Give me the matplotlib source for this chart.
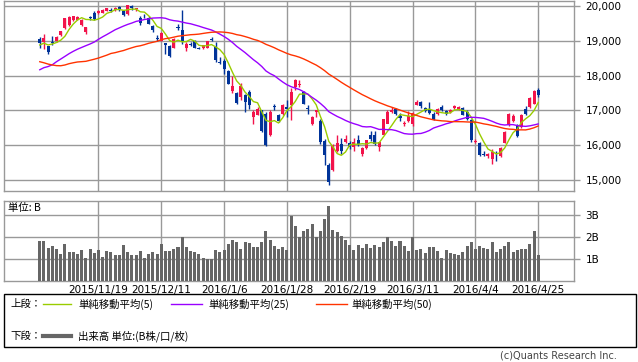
import matplotlib
matplotlib.use("Agg")
import matplotlib.pyplot as plt
from matplotlib.lines import Line2D
from matplotlib.patches import Rectangle
import numpy as np
import pandas as pd

# closes before the visible window (only feed the moving averages)
prior_close = [20620, 20554, 20222, 20033, 19435, 18540, 17806, 18376, 18574, 19136, 18890,
               18165, 18095, 18182, 17792, 17860, 17427, 18770, 18299, 18264, 17965, 18026,
               18171, 18432, 18070, 17571, 17880, 17645, 16930, 17388,
               17722, 17725, 18005, 18186, 18322, 18141, 18438, 18234, 17891, 18096, 18291,
               18131, 18207, 18554, 18435, 18825, 18947, 18778, 18904]

# visible window, 2015/10/29 .. 2016/4/25
opens = [19040, 18950, 18840, 18950, 18980, 19160, 19370, 19440, 19580, 19600,
         19460, 19240, 19680, 19780, 19790, 19800, 19860, 19880, 19880, 19980,
         19860, 19770, 20000, 19900, 19660, 19720, 19660, 19430, 19080, 19000,
         18930, 18860, 18800, 19380, 19310, 18780, 18900, 19000, 18800, 18780,
         18800, 19060, 18818, 18398, 18410, 18139, 17562, 17500, 17400, 17430,
         17520, 16800, 16870, 17000, 16900, 16300, 17130, 16860, 16900, 17100,
         17150, 17660, 17720, 17540, 17070, 16600, 16950, 16700, 16130, 15450,
         15300, 15850, 16050, 16100, 16060, 15950, 16150, 15760, 15920, 16300,
         16300, 15960, 16300, 16620, 16960, 17030, 16850, 16600, 16700, 16600,
         17170, 17240, 17080, 17050, 16900, 16900, 17100, 16980, 16960, 17080,
         17050, 17060, 16960, 16720, 16100, 16080, 15750, 15700, 15600, 15790,
         15700, 16080, 16580, 16700, 16580, 16520, 17050, 17100, 17200, 17580]
highs = [19100, 19180, 18860, 19140, 19130, 19280, 19660, 19720, 19720, 19720,
         19620, 19400, 19700, 19840, 19880, 19900, 19950, 19950, 19960, 20000,
         19880, 20030, 20012, 19950, 19700, 19760, 19700, 19450, 19150, 19260,
         18940, 18880, 19070, 19470, 19869, 18950, 18950, 19010, 18830, 18890,
         19000, 19110, 18951, 18547, 18469, 18172, 17975, 17536, 17783, 17480,
         17600, 17000, 17100, 17020, 16950, 17000, 17200, 16890, 17200, 17300,
         17640, 17900, 17870, 17560, 17160, 16850, 17020, 16760, 16170, 15500,
         16050, 16300, 16200, 16300, 16120, 16200, 16300, 15950, 16160, 16400,
         16400, 16100, 16750, 17000, 17100, 17060, 16920, 16700, 16990, 16960,
         17290, 17260, 17100, 17240, 16950, 17080, 17150, 17020, 17040, 17150,
         17130, 17100, 17010, 16760, 16180, 16100, 15850, 15780, 15900, 15850,
         15950, 16400, 16920, 16900, 16620, 16900, 17120, 17400, 17600, 17640]
lows = [18790, 18760, 18620, 18880, 18960, 19140, 19340, 19420, 19560, 19580,
        19420, 19180, 19580, 19590, 19760, 19780, 19840, 19830, 19860, 19850,
        19700, 19750, 19890, 19860, 19450, 19650, 19470, 19250, 19000, 18980,
        18620, 18540, 18780, 19300, 18900, 18700, 18860, 18780, 18750, 18760,
        18780, 19000, 18394, 18327, 18051, 17767, 17509, 17200, 17300, 16960,
        17030, 16600, 16860, 16380, 15980, 16280, 17000, 16680, 16880, 16800,
        16720, 17600, 17660, 17180, 16900, 16570, 16820, 16050, 15450, 14865,
        15280, 15800, 15750, 16080, 15900, 15850, 15980, 15700, 15900, 16130,
        16000, 15850, 16380, 16680, 16940, 16880, 16700, 16550, 16680, 16560,
        17150, 17080, 16950, 16900, 16720, 16880, 16980, 16860, 16930, 17050,
        17010, 16860, 16740, 16110, 16080, 15700, 15700, 15640, 15470, 15540,
        15680, 16060, 16560, 16680, 16240, 16500, 16880, 17080, 17180, 17400]
closes = [18936, 19083, 18683, 18927, 19116, 19265, 19642, 19671, 19697, 19690,
          19596, 19393, 19649, 19610, 19859, 19879, 19924, 19847, 19944, 19883,
          19747, 20012, 19938, 19939, 19504, 19698, 19492, 19301, 19046, 19230,
          18883, 18565, 19049, 19353, 18986, 18916, 18886, 18789, 18769, 18873,
          18982, 19033, 18450, 18374, 18191, 17767, 17697, 17218, 17715, 17240,
          17147, 16955, 17048, 16416, 16017, 16958, 17110, 16708, 17163, 17041,
          17518, 17865, 17750, 17191, 17044, 16819, 17004, 16085, 15713, 14952,
          16022, 16054, 15836, 16196, 15967, 16111, 16052, 15915, 16140, 16188,
          16026, 16085, 16746, 16960, 17014, 16911, 16783, 16642, 16852, 16938,
          17233, 17117, 16974, 16936, 16724, 17048, 17000, 16892, 17002, 17134,
          17103, 16878, 16758, 16164, 16123, 15732, 15715, 15749, 15821, 15751,
          15928, 16381, 16911, 16848, 16275, 16874, 16906, 17363, 17572, 17439]
# volume, billions of shares
volume = [1.80, 1.83, 1.49, 1.60, 1.46, 1.23, 1.69, 1.32, 1.32, 1.23,
          1.42, 1.05, 1.46, 1.28, 1.42, 1.09, 1.35, 1.32, 1.17, 1.17,
          1.65, 1.32, 1.18, 1.18, 1.37, 1.05, 1.23, 1.32, 1.23, 1.69,
          1.37, 1.37, 1.46, 1.55, 2.02, 1.55, 1.37, 1.32, 1.23, 1.05,
          1.00, 1.00, 1.42, 1.32, 1.42, 1.69, 1.88, 1.78, 1.46, 1.77,
          1.71, 1.55, 1.55, 1.78, 2.29, 1.88, 1.60, 1.46, 1.55, 1.42,
          2.95, 2.49, 2.00, 2.29, 2.38, 2.62, 2.00, 2.29, 2.85, 3.42,
          2.34, 2.25, 2.06, 1.88, 1.65, 1.42, 1.65, 1.51, 1.69, 1.51,
          1.65, 1.55, 1.78, 2.02, 1.83, 1.60, 1.83, 1.60, 1.37, 2.02,
          1.42, 1.46, 1.28, 1.55, 1.55, 1.37, 1.05, 1.42, 1.28, 1.23,
          1.18, 1.32, 1.60, 1.78, 1.46, 1.60, 1.51, 1.46, 1.78, 1.32,
          1.46, 1.60, 1.78, 1.32, 1.42, 1.46, 1.46, 1.69, 2.29, 1.18]

date_idx = [14, 29, 44, 59, 74, 89, 104, 119]
date_labels = ['2015/11/19', '2015/12/11', '2016/1/6', '2016/1/28',
               '2016/2/19', '2016/3/11', '2016/4/4', '2016/4/25']
price_ticks = [15000, 16000, 17000, 18000, 19000, 20000]
vol_ticks = [1, 2, 3]

UP, DOWN = '#f2134b', '#003399'
GRID = '#999999'
JP = ['Noto Sans CJK JP', 'DejaVu Sans']

n = len(closes)
x = np.arange(n)
allc = pd.Series(prior_close + closes, dtype=float)
ma = {w: allc.rolling(w).mean().values[len(prior_close):] for w in (5, 25, 50)}

W, H = 638, 362
fig = plt.figure(figsize=(W / 100, H / 100), dpi=100)
ax = fig.add_axes([3.5 / W, 1 - 190.5 / H, 571 / W, 190 / H])
axv = fig.add_axes([3.5 / W, 1 - 280.5 / H, 571 / W, 79.5 / H])

for a in (ax, axv):
    a.set_xlim(-8.66, 127.66)
    for s in a.spines.values():
        s.set_color(GRID)
        s.set_linewidth(1)
    for gi in date_idx:
        a.axvline(gi, color=GRID, lw=1, zorder=0)
    a.yaxis.tick_right()
    a.tick_params(axis='y', length=4, color=GRID, width=1, pad=4, labelsize=7.5)
    a.tick_params(axis='x', length=0)

# price panel
ax.set_ylim(14707, 20152)
for p in price_ticks:
    ax.axhline(p, color=GRID, lw=1, zorder=0)
ax.set_yticks(price_ticks)
ax.set_yticklabels([f'{p:,}' for p in price_ticks])
ax.set_xticks([])

o, h, l, c = map(np.array, (opens, highs, lows, closes))
cols = np.where(c >= o, UP, DOWN)
ax.vlines(x, l, h, colors=cols, lw=1, zorder=3)
body = np.maximum(np.abs(c - o), 12)
ax.bar(x, body, bottom=np.minimum(o, c), width=0.72, color=cols, lw=0, zorder=4)

ax.plot(x, ma[5], color='#99cc00', lw=1, zorder=5)
ax.plot(x, ma[25], color='#9900ff', lw=1, zorder=5)
ax.plot(x, ma[50], color='#ff3300', lw=1, zorder=5)

# volume panel
axv.set_ylim(0, 3.66)
for v in vol_ticks:
    axv.axhline(v, color=GRID, lw=1, zorder=0)
axv.set_yticks(vol_ticks)
axv.set_yticklabels([f'{v}B' for v in vol_ticks])
axv.bar(x, volume, width=0.72, color='#666666', lw=0, zorder=3)
axv.set_xticks(date_idx)
axv.set_xticklabels(date_labels, fontsize=7.5)
axv.tick_params(axis='x', pad=3)
axv.text(4.5 / 571, 0.91, '単位: B', transform=axv.transAxes, fontsize=7.5,
         family=JP, va='center', ha='left')

# legend box
fig.patches.append(Rectangle((3.5 / W, 1 - 346.5 / H), 632 / W, 53 / H,
                             transform=fig.transFigure, fill=False,
                             edgecolor='black', lw=1))
row1, row2 = 1 - 304 / H, 1 - 336 / H
fig.text(10 / W, row1, '上段：', family=JP, fontsize=7.5, va='center')
items = [(43, 71, 78, '#99cc00', '単純移動平均(5)'),
         (171, 202, 208, '#9900ff', '単純移動平均(25)'),
         (316, 347, 351, '#ff3300', '単純移動平均(50)')]
for x0, x1, tx, col, lab in items:
    fig.lines.append(Line2D([x0 / W, x1 / W], [row1, row1], color=col, lw=1,
                            transform=fig.transFigure))
    fig.text(tx / W, row1, lab, family=JP, fontsize=7.5, va='center')
fig.text(10 / W, row2, '下段：', family=JP, fontsize=7.5, va='center')
fig.lines.append(Line2D([43 / W, 71 / W], [row2, row2], color='#666666', lw=3,
                        transform=fig.transFigure))
fig.text(78 / W, row2, '出来高 単位:(B株/口/枚)', family=JP, fontsize=7.5, va='center')

fig.text(617 / W, 1 - 356 / H, '(c)Quants Research Inc.', fontsize=7,
         ha='right', va='center', color='#444444')

fig.savefig('out.png', dpi=100)
